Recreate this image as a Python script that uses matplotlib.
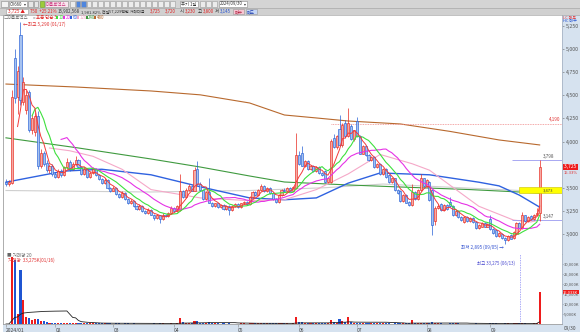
import matplotlib
matplotlib.use("Agg")
import matplotlib.pyplot as plt
import matplotlib.transforms as mtrans
from matplotlib.patches import Rectangle
import numpy as np
import pandas as pd

plt.rcParams["font.family"] = ["Noto Sans CJK KR", "DejaVu Sans"]
plt.rcParams["axes.unicode_minus"] = False

# daily candles (won), volume in thousand shares
opens = [3560, 3540, 3550, 4900, 4480, 5150, 4430, 4340, 4540, 4130,
         4100, 4280, 3740, 3880, 3770, 3690, 3740, 3650, 3620, 3680,
         3640, 3720, 3780, 3700, 3760, 3800, 3720, 3650, 3700, 3620,
         3660, 3700, 3640, 3590, 3550, 3580, 3500, 3470, 3500, 3430,
         3400, 3440, 3380, 3330, 3360, 3300, 3270, 3300, 3250, 3230,
         3260, 3210, 3170, 3200, 3160, 3210, 3190, 3230, 3280, 3250,
         3260, 3460, 3400, 3480, 3520, 3470, 3700, 3540, 3480, 3380,
         3450, 3340, 3300, 3330, 3290, 3310, 3270, 3300, 3260, 3300,
         3320, 3290, 3330, 3350, 3320, 3400, 3450, 3420, 3480, 3520,
         3460, 3500, 3440, 3380, 3350, 3420, 3480, 3460, 3500, 3470,
         3500, 3850, 3880, 3740, 3790, 3700, 3740, 3680, 3720, 3660,
         3680, 3560, 3560, 4040, 3940, 4140, 3960, 4200, 4060, 4170,
         4030, 4220, 4060, 3870, 3950, 3850, 3800, 3830, 3720, 3760,
         3650, 3700, 3640, 3560, 3600, 3480, 3470, 3360, 3420, 3350,
         3310, 3450, 3380, 3480, 3600, 3520, 3560, 3480, 3140, 3280,
         3320, 3260, 3310, 3350, 3300, 3200, 3250, 3180, 3130, 3180,
         3140, 3170, 3130, 3060, 3080, 3120, 3080, 3160, 3050, 3040,
         2980, 3000, 2960, 2930, 2990, 2960, 3000, 3120, 3060, 3200,
         3140, 3190, 3160, 3200, 3230]
highs = [3590, 3580, 4560, 5000, 4820, 5290, 4700, 4560, 4560, 4300,
         4320, 4330, 3920, 3900, 3800, 3760, 3760, 3670, 3700, 3700,
         3740, 3820, 3800, 3780, 3840, 3810, 3730, 3720, 3710, 3680,
         3720, 3710, 3650, 3600, 3600, 3590, 3510, 3520, 3510, 3440,
         3460, 3450, 3390, 3380, 3370, 3310, 3320, 3310, 3260, 3280,
         3270, 3220, 3220, 3210, 3230, 3220, 3240, 3300, 3290, 3310,
         3650, 3480, 3500, 3540, 3530, 3720, 3790, 3560, 3490, 3460,
         3600, 3350, 3340, 3340, 3320, 3320, 3310, 3310, 3310, 3330,
         3330, 3340, 3360, 3360, 3410, 3460, 3460, 3490, 3540, 3530,
         3510, 3510, 3450, 3390, 3430, 3490, 3500, 3510, 3510, 3520,
         4090, 3900, 3950, 3800, 3800, 3750, 3750, 3730, 3730, 3670,
         3690, 3610, 4030, 4080, 4070, 4290, 4200, 4230, 4360, 4190,
         4130, 4270, 4070, 3960, 3960, 3860, 3840, 3840, 3770, 3770,
         3710, 3710, 3650, 3610, 3610, 3490, 3480, 3430, 3430, 3360,
         3540, 3460, 3490, 3650, 3610, 3590, 3570, 3490, 3300, 3320,
         3330, 3320, 3320, 3400, 3310, 3260, 3260, 3190, 3190, 3190,
         3180, 3180, 3140, 3110, 3130, 3130, 3120, 3200, 3060, 3050,
         3020, 3010, 2970, 2990, 3000, 3030, 3130, 3130, 3240, 3210,
         3190, 3200, 3220, 3280, 3798]
lows = [3520, 3520, 3540, 4420, 4300, 4400, 4400, 4300, 4100, 4080,
        4060, 3700, 3710, 3740, 3670, 3660, 3630, 3600, 3600, 3620,
        3630, 3700, 3680, 3690, 3740, 3710, 3640, 3640, 3610, 3600,
        3650, 3630, 3580, 3540, 3540, 3490, 3450, 3460, 3420, 3390,
        3390, 3370, 3320, 3320, 3290, 3260, 3260, 3240, 3220, 3220,
        3200, 3150, 3160, 3120, 3150, 3180, 3180, 3220, 3240, 3240,
        3250, 3390, 3390, 3460, 3460, 3460, 3530, 3470, 3370, 3370,
        3330, 3290, 3290, 3280, 3280, 3260, 3260, 3210, 3250, 3290,
        3280, 3280, 3320, 3310, 3310, 3390, 3410, 3410, 3470, 3450,
        3450, 3430, 3370, 3340, 3340, 3410, 3450, 3450, 3460, 3460,
        3490, 3750, 3730, 3720, 3690, 3690, 3670, 3670, 3650, 3630,
        3550, 3550, 3550, 3930, 3920, 3950, 3940, 4040, 4050, 4020,
        4010, 4050, 3860, 3860, 3840, 3790, 3790, 3710, 3710, 3640,
        3640, 3610, 3550, 3550, 3470, 3430, 3350, 3350, 3330, 3300,
        3300, 3370, 3370, 3470, 3510, 3510, 3360, 2990, 3100, 3270,
        3250, 3250, 3260, 3290, 3190, 3190, 3170, 3140, 3120, 3130,
        3130, 3120, 3050, 3050, 3070, 3070, 3070, 3040, 3000, 2970,
        2970, 2950, 2895, 2920, 2940, 2950, 2990, 3050, 3050, 3130,
        3130, 3150, 3150, 3190, 3145]
closes = [3540, 3560, 4480, 4470, 4760, 4450, 4640, 4500, 4130, 4250,
          4280, 3740, 3880, 3760, 3690, 3740, 3650, 3620, 3680, 3640,
          3720, 3780, 3700, 3760, 3800, 3720, 3650, 3700, 3620, 3660,
          3700, 3640, 3590, 3550, 3580, 3500, 3470, 3500, 3430, 3400,
          3440, 3380, 3330, 3360, 3300, 3270, 3300, 3250, 3230, 3260,
          3210, 3170, 3200, 3160, 3210, 3190, 3230, 3280, 3250, 3300,
          3460, 3400, 3480, 3520, 3470, 3690, 3540, 3480, 3380, 3450,
          3340, 3300, 3330, 3290, 3310, 3270, 3300, 3260, 3300, 3320,
          3290, 3330, 3350, 3320, 3400, 3450, 3420, 3480, 3520, 3460,
          3500, 3440, 3380, 3350, 3420, 3480, 3460, 3500, 3470, 3510,
          3850, 3760, 3740, 3790, 3700, 3740, 3680, 3720, 3660, 3640,
          3560, 3600, 4010, 3940, 4060, 3960, 4180, 4060, 4200, 4030,
          4120, 4060, 3870, 3950, 3850, 3800, 3830, 3720, 3760, 3650,
          3700, 3620, 3560, 3600, 3480, 3440, 3360, 3420, 3340, 3310,
          3450, 3380, 3480, 3600, 3520, 3580, 3370, 3100, 3280, 3300,
          3260, 3310, 3270, 3300, 3200, 3250, 3180, 3150, 3180, 3140,
          3170, 3130, 3060, 3100, 3120, 3080, 3110, 3050, 3010, 2980,
          3010, 2960, 2930, 2980, 2950, 3020, 3120, 3060, 3200, 3140,
          3180, 3160, 3210, 3230, 3725]
volumes = [180, 210, 33275, 32000, 5000, 27000, 12000, 3500, 3000, 2000,
           2500, 2300, 1600, 1300, 900, 700, 600, 500, 450, 400,
           500, 650, 450, 420, 600, 400, 380, 350, 330, 300,
           380, 300, 280, 300, 260, 320, 280, 250, 300, 260,
           240, 280, 300, 220, 260, 240, 200, 230, 210, 200,
           250, 280, 220, 260, 500, 200, 230, 350, 240, 300,
           3000, 900, 700, 600, 450, 1500, 1300, 600, 550, 400,
           1000, 450, 300, 280, 250, 260, 230, 300, 250, 240,
           220, 260, 280, 230, 400, 450, 300, 350, 420, 330,
           280, 300, 320, 280, 300, 350, 280, 300, 250, 350,
           3500, 1100, 900, 500, 450, 350, 380, 300, 320, 280,
           400, 300, 2000, 900, 700, 2500, 1500, 900, 3500, 900,
           500, 700, 600, 400, 380, 350, 300, 350, 280, 320,
           260, 280, 300, 250, 350, 300, 380, 300, 280, 300,
           2000, 600, 500, 700, 400, 350, 500, 800, 500, 300,
           280, 250, 230, 300, 350, 260, 280, 250, 220, 200,
           180, 200, 280, 220, 200, 180, 170, 300, 260, 300,
           220, 250, 350, 280, 230, 260, 450, 300, 500, 300,
           250, 220, 260, 400, 16033]

month_pos = [0, 17, 37, 58, 80, 101, 121, 145, 167]
month_labels = ["2024/01", "02", "03", "04", "05", "06", "07", "08", "09"]

# slower averages at a few candles
ma60_idx = [15, 22, 30, 40, 50, 67, 84, 96, 107, 118, 129, 140, 146, 163, 175, 181, 184]
ma60_val = [3930, 3900, 3840, 3700, 3480, 3390, 3360, 3370, 3480, 3650, 3860, 3760, 3690, 3300, 3150, 3130, 3150]
ma120_idx = [0, 10, 20, 33, 50, 67, 84, 96, 107, 118, 129, 146, 163, 170, 177, 184]
ma120_val = [3560, 3620, 3680, 3700, 3640, 3510, 3390, 3370, 3390, 3550, 3660, 3640, 3560, 3520, 3420, 3290]
ma240_idx = [0, 25, 50, 67, 84, 96, 118, 136, 160, 184]
ma240_val = [4040, 3930, 3811, 3724, 3627, 3562, 3530, 3508, 3480, 3443]
ma_gray_idx = [0, 30, 50, 84, 110, 130, 150, 184]
ma_gray_val = [3470, 3460, 3454, 3470, 3500, 3540, 3510, 3460]
ma480_idx = [0, 24, 50, 67, 84, 96, 107, 118, 136, 153, 170, 184]
ma480_val = [4622, 4590, 4547, 4505, 4417, 4287, 4255, 4222, 4190, 4110, 4017, 3963]

price_ticks = [3000, 3250, 3500, 3750, 4000, 4250, 4500, 4750, 5000, 5250]
vol_ticks = [5000, 10000, 15000, 20000, 25000, 30000]

W, H = 580, 332
fig = plt.figure(figsize=(W / 100, H / 100), dpi=100)
fig.patch.set_facecolor("white")


def fx(px):
    return px / W


def fy(py):
    return 1 - py / H


def box(x0, y0, x1, y1, fc, ec="none", lw=0.4, z=1):
    fig.add_artist(Rectangle((fx(x0), fy(y1)), fx(x1) - fx(x0), fy(y0) - fy(y1),
                             transform=fig.transFigure, facecolor=fc,
                             edgecolor=ec, linewidth=lw, zorder=z))


def txt(x, y, s, color="#333333", size=3.6, ha="left", z=6, **kw):
    fig.text(fx(x), fy(y), s, color=color, fontsize=size, ha=ha, va="center",
             zorder=z, **kw)


PANEL = "#d6e2ef"
UP_E, UP_F = "#e8281e", "#f6aaa4"
DN_E, DN_F = "#2760d6", "#a6c2f0"

# background panels (axis strip on the right, date strip at the bottom)
box(562, 15, 580, 332, PANEL, z=-2)
box(3, 324, 562, 332, PANEL, z=-2)

x = np.arange(len(closes))
o = np.array(opens, float)
h = np.array(highs, float)
lo = np.array(lows, float)
c = np.array(closes, float)
up = c >= o
XL = (-1.03, 191.7)

# ---- price pane ----
ax = fig.add_axes([fx(3), fy(254), fx(562) - fx(3), fy(15) - fy(254)])
ax.set_facecolor("white")
ax.set_xlim(*XL)
ax.set_ylim(2783, 5369)

ax.plot(ma480_idx, ma480_val, color="#b8692e", lw=0.8, zorder=2)
ax.plot(ma_gray_idx, ma_gray_val, color="#cfcfcf", lw=0.8, zorder=2)
ax.plot(ma240_idx, ma240_val, color="#3f9a3f", lw=0.8, zorder=2)
ax.plot(ma120_idx, ma120_val, color="#2f62e0", lw=1.0, zorder=2)
ax.plot(ma60_idx, ma60_val, color="#f5a8c8", lw=0.8, zorder=2)

edge = np.where(up, UP_E, DN_E)
face = np.where(up, UP_F, DN_F)
ax.vlines(x, lo, h, colors=edge, lw=0.5, zorder=3)
ax.bar(x, np.maximum(np.abs(c - o), 8), bottom=np.minimum(o, c), width=0.72,
       color=face, edgecolor=edge, linewidth=0.45, zorder=4)

cs = pd.Series(closes, dtype=float)
ax.plot(x, cs.rolling(20).mean(), color="#e632e6", lw=0.8, zorder=5)
ax.plot(x, cs.rolling(10).mean(), color="#3ee03e", lw=0.8, zorder=5)
ax.plot(x, cs.rolling(5).mean(), color="#f23a3a", lw=0.7, zorder=5)

# markers on the right part
ax.hlines(4190, 112, 191.7, colors="#f08a8a", lw=0.6, linestyles=(0, (1, 1)), zorder=2)
ax.text(191.3, 4215, "4,190", color="#e03030", fontsize=3.3, ha="right", va="bottom")
ax.hlines([3798, 3147], 174.5, 191.7, colors="#9a9af0", lw=0.6, zorder=2)
ax.text(185, 3815, "3,798", color="#555555", fontsize=3.3, ha="left", va="bottom")
ax.text(185, 3164, "3,147", color="#555555", fontsize=3.3, ha="left", va="bottom")
ax.add_patch(Rectangle((177, 3443), 14.6, 65, facecolor="#ffff00",
                       edgecolor="#c8c000", lw=0.4, zorder=6))
ax.text(185, 3476, "3,473", color="#444444", fontsize=3.0, ha="left", va="center", zorder=7)

ax.text(5.9, 5270, "←최고 5,290 (01/17)", color="#e03030", fontsize=3.4,
        ha="left", va="center", zorder=7)
ax.text(171.6, 2858, "최저 2,895 (09/05) →", color="#3050d0", fontsize=3.3,
        ha="right", va="center", zorder=7)

ax.yaxis.tick_right()
ax.set_yticks(price_ticks)
# the 3,750 label sits under the current-price box, as in the screen
ax.set_yticklabels(["" if v == 3750 else f"{v:,}" for v in price_ticks])
ax.tick_params(axis="y", labelsize=3.8, length=1.5, width=0.4, pad=1,
               colors="#666666", labelcolor="#555555")
ax.set_xticks([])
ax.spines["top"].set_visible(False)
ax.spines["left"].set_color("#a0a0a0")
ax.spines["right"].set_color("#a8b4c4")
ax.spines["bottom"].set_color("#b0b0b0")
for s in ("left", "right", "bottom"):
    ax.spines[s].set_linewidth(0.6)

bl = mtrans.blended_transform_factory(ax.transAxes, ax.transData)
ax.text(1.003, 3725, "3,725 ", color="white", fontsize=3.6, ha="left", va="center",
        transform=bl, clip_on=False, zorder=8,
        bbox=dict(boxstyle="square,pad=0.15", fc="#ee1c1c", ec="none"))
ax.text(1.003, 3662, "15.33%", color="#e03030", fontsize=3.0, ha="left", va="center",
        transform=bl, clip_on=False)

# ---- volume pane ----
av = fig.add_axes([fx(3), fy(324), fx(562) - fx(3), fy(254) - fy(324)])
av.set_facecolor("white")
av.set_xlim(*XL)
av.set_ylim(0, 35000)
vcol = np.where(up, "#ee1c1c", "#1f55d2")
av.bar(x, volumes, width=0.72, color=vcol, linewidth=0, zorder=3)
vs = pd.Series(volumes, dtype=float)
av.plot(x, vs.rolling(20, min_periods=1).sum() / 20, color="#222222", lw=0.6, zorder=4)
av.vlines(177.2, 0, 35000, colors="#8a8af5", lw=0.5, linestyles=(0, (2, 1.5)), zorder=2)
av.text(175.5, 30200, "최고 33,275 (06/13)", color="#4a4ad0", fontsize=3.2,
        ha="right", va="center")
av.text(0.5, 34200, "■ 거래량 20", color="#666666", fontsize=3.3, ha="left", va="center")
av.text(0.8, 32100, "거래량  33,275K(01/16)", color="#e03030", fontsize=3.3,
        ha="left", va="center")

av.yaxis.tick_right()
av.set_yticks(vol_ticks)
av.set_yticklabels([f"{v:,}K" for v in vol_ticks])
av.tick_params(axis="y", labelsize=2.9, length=1.0, width=0.4, pad=0.5,
               colors="#666666", labelcolor="#555555")
av.set_xticks(month_pos)
av.set_xticklabels(month_labels, ha="left")
av.tick_params(axis="x", labelsize=3.6, length=2, width=0.4, pad=0.8,
               colors="#888888", labelcolor="#444444")
av.spines["top"].set_visible(False)
av.spines["left"].set_color("#a0a0a0")
av.spines["right"].set_color("#a8b4c4")
av.spines["bottom"].set_color("#a0a0a0")
for s in ("left", "right", "bottom"):
    av.spines[s].set_linewidth(0.6)
blv = mtrans.blended_transform_factory(av.transAxes, av.transData)
av.text(1.002, 16033, "16,033K", color="white", fontsize=2.9, ha="left", va="center",
        transform=blv, clip_on=False, zorder=8,
        bbox=dict(boxstyle="square,pad=0.1", fc="#ee1c1c", ec="none"))
txt(564, 328.5, "09/30", color="#444444", size=3.4)

# ---- header rows ----
box(0, 0, 580, 8, "#d4d4d4", z=1)
box(0, 8, 580, 15, "#d0d0d0", z=1)
fig.add_artist(plt.Line2D([0, 1], [fy(8), fy(8)], transform=fig.transFigure,
                          color="#a8a8a8", lw=0.5, zorder=2))
fig.add_artist(plt.Line2D([0, 1], [fy(15), fy(15)], transform=fig.transFigure,
                          color="#a8a8a8", lw=0.5, zorder=2))

box(1, 1, 7.5, 7, "#f2f2f2", "#888888", z=3)
box(9, 1, 27, 7, "white", "#888888", z=3)
txt(10, 4, "CV660", size=3.1)
txt(23.5, 4, "▾", size=2.8)
box(28, 1, 32.5, 7, "#e6e6e6", "#888888", z=3)
box(33.5, 1, 38, 7, "#e6e6e6", "#888888", z=3)
box(40, 1, 44, 7, "#9ccc3a", "#6a9a20", z=3)
box(44.5, 1, 68, 7, "#fbe6ef", "#888888", z=3)
txt(46, 4, "마음로덱스", color="#c8327a", size=3.2)
for i, xb in enumerate([70, 75.5, 81, 86.5, 92, 98, 104, 110, 116, 122, 128,
                        134, 140, 146, 152, 158, 164, 170]):
    fc = "#4f86de" if i in (1, 2) else "#ececec"
    box(xb, 1.5, xb + 4.5, 6.5, fc, "#9a9a9a", z=3)
box(180, 1, 198, 7, "white", "#888888", z=3)
txt(181, 4, "주기 1일", size=3.1)
for xb in [200, 206, 212]:
    box(xb, 1.5, xb + 4.5, 6.5, "#ececec", "#9a9a9a", z=3)
box(219, 1, 247, 7, "white", "#888888", z=3)
txt(220, 4, "2024/09/30", size=3.1)
txt(243.5, 4, "▾", size=2.8)

box(6, 9, 28, 14, "white", "#999999", z=3)
txt(8, 11.5, "3,725 ▲", color="#e02020", size=3.3)
txt(30.5, 11.5, "750  +25.21%", color="#e02020", size=3.2)
txt(58, 11.5, "15,902,568", size=3.2)
txt(81, 11.5, "1,981.82% 전일", size=3.0)
txt(108.5, 11.5, "57,229백만 거래대금", size=2.9)
txt(149.5, 11.5, "3,725", color="#e02020", size=3.2)
txt(164.5, 11.5, "3,720", color="#e02020", size=3.2)
txt(180, 11.5, "시", size=3.2)
txt(185, 11.5, "3,230", color="#e02020", size=3.2)
txt(198, 11.5, "고", size=3.2)
txt(203, 11.5, "3,800", color="#e02020", size=3.2)
txt(215, 11.5, "저", size=3.2)
txt(220, 11.5, "3,145", color="#2050d0", size=3.2)
box(233, 9, 244, 14, "#f6c6d2", "#999999", z=3)
txt(238.5, 11.5, "매수", color="#b02040", size=3.1, ha="center")
box(245.5, 9, 256.5, 14, "#c6d6f6", "#999999", z=3)
txt(251, 11.5, "매도", color="#2040b0", size=3.1, ha="center")

# legend row
txt(3.5, 17.8, "□", color="#777777", size=3.2)
txt(8, 17.8, "마음로덱스", color="#666666", size=3.2)
txt(33, 17.8, "=", color="#666666", size=3.2)
txt(36.5, 17.8, "표준 단순 5", color="#e03030", size=3.2)
for xs, lab, col in [(56, "10", "#3ee03e"), (63, "20", "#e632e6"),
                     (70, "60", "#2f62e0"), (77, "120", "#f5a8c8"),
                     (85.5, "240", "#3f9a3f"), (94, "480", "#b8692e")]:
    box(xs, 16.4, xs + 2.3, 19.0, col, z=7)
    txt(xs + 2.8, 17.8, lab, color=col, size=3.2)

txt(563, 17.5, "LC 매도", color="#e03030", size=2.9)
txt(563, 21.0, "HC 매수", color="#2050d0", size=2.9)

fig.savefig("out.png", dpi=100)
